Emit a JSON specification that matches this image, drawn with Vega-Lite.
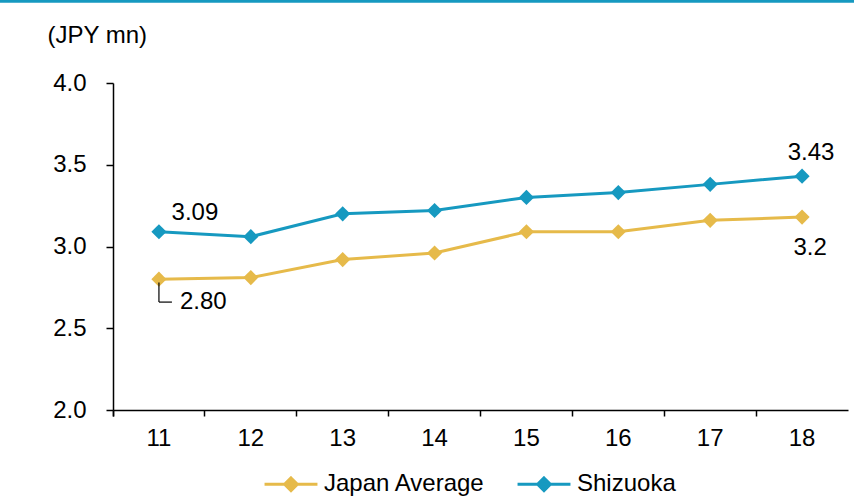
{
  "$schema": "https://vega.github.io/schema/vega-lite/v6.json",
  "width": 735,
  "height": 327,
  "autosize": "none",
  "padding": {"left": 113, "top": 83, "right": 6, "bottom": 91},
  "background": "white",
  "config": {
    "view": {"stroke": null},
    "font": "Liberation Sans",
    "axis": {"labelFont": "Liberation Sans", "labelFontSize": 24, "labelColor": "#000000", "domainColor": "#000000", "tickColor": "#000000", "domainWidth": 1.5, "tickWidth": 1.5, "grid": false},
    "legend": {"labelFont": "Liberation Sans", "labelFontSize": 24, "labelColor": "#000000", "labelLimit": 400}
  },
  "datasets": {
    "series": [
      {"year": "11", "region": "Japan Average", "value": 2.80},
      {"year": "12", "region": "Japan Average", "value": 2.81},
      {"year": "13", "region": "Japan Average", "value": 2.92},
      {"year": "14", "region": "Japan Average", "value": 2.96},
      {"year": "15", "region": "Japan Average", "value": 3.09},
      {"year": "16", "region": "Japan Average", "value": 3.09},
      {"year": "17", "region": "Japan Average", "value": 3.16},
      {"year": "18", "region": "Japan Average", "value": 3.18},
      {"year": "11", "region": "Shizuoka", "value": 3.09},
      {"year": "12", "region": "Shizuoka", "value": 3.06},
      {"year": "13", "region": "Shizuoka", "value": 3.20},
      {"year": "14", "region": "Shizuoka", "value": 3.22},
      {"year": "15", "region": "Shizuoka", "value": 3.30},
      {"year": "16", "region": "Shizuoka", "value": 3.33},
      {"year": "17", "region": "Shizuoka", "value": 3.38},
      {"year": "18", "region": "Shizuoka", "value": 3.43}
    ]
  },
  "layer": [
    {
      "data": {"name": "series"},
      "mark": {"type": "line", "strokeWidth": 3, "point": {"shape": "diamond", "size": 230, "filled": true, "opacity": 1}},
      "encoding": {
        "x": {"field": "year", "type": "ordinal", "sort": null,
              "scale": {"type": "band", "paddingInner": 0, "paddingOuter": 0},
              "axis": {"title": null, "labelAngle": 0, "bandPosition": 0, "tickExtra": true, "tickSize": 6, "labelPadding": 10}},
        "y": {"field": "value", "type": "quantitative",
              "scale": {"domain": [2.0, 4.0], "nice": false, "zero": false},
              "axis": {"values": [2.0, 2.5, 3.0, 3.5, 4.0], "format": ".1f", "tickSize": 7, "labelPadding": 20,
                       "title": "(JPY mn)", "titleAngle": 0, "titleAlign": "left", "titleBaseline": "middle",
                       "titleX": -66, "titleY": -48, "titleFont": "Liberation Sans", "titleFontSize": 24, "titleFontWeight": "normal", "titleColor": "#000000"}},
        "color": {"field": "region", "type": "nominal",
                  "scale": {"domain": ["Japan Average", "Shizuoka"], "range": ["#E6BA4A", "#1699C0"]},
                  "legend": {"title": null, "orient": "none", "legendX": 150, "legendY": 373, "direction": "horizontal", "padding": 0,
                             "symbolType": "M-1,0H1M0,-0.24L0.24,0L0,0.24L-0.24,0Z", "symbolSize": 2800, "symbolStrokeWidth": 3,
                             "labelOffset": 5, "columnPadding": 25, "labelLimit": 400,
                             "encode": {"symbols": {"update": {"fill": {"scale": "color", "field": "value"}, "stroke": {"scale": "color", "field": "value"}, "opacity": {"value": 1}}}}}}
      }
    },
    {
      "data": {"values": [{"year": "11", "value": 3.09, "label": "3.09"}]},
      "mark": {"type": "text", "fontSize": 24, "dx": 36, "dy": -19, "color": "#000000"},
      "encoding": {"x": {"field": "year", "type": "ordinal"}, "y": {"field": "value", "type": "quantitative"}, "text": {"field": "label"}}
    },
    {
      "data": {"values": [{"year": "18", "value": 3.43, "label": "3.43"}]},
      "mark": {"type": "text", "fontSize": 24, "dx": 9, "dy": -23, "color": "#000000"},
      "encoding": {"x": {"field": "year", "type": "ordinal"}, "y": {"field": "value", "type": "quantitative"}, "text": {"field": "label"}}
    },
    {
      "data": {"values": [{"year": "18", "value": 3.18, "label": "3.2"}]},
      "mark": {"type": "text", "fontSize": 24, "dx": 8, "dy": 31, "color": "#000000"},
      "encoding": {"x": {"field": "year", "type": "ordinal"}, "y": {"field": "value", "type": "quantitative"}, "text": {"field": "label"}}
    },
    {
      "data": {"values": [{"year": "11", "value": 2.66, "label": "2.80"}]},
      "mark": {"type": "text", "fontSize": 24, "align": "left", "baseline": "middle", "dx": 21, "dy": 0, "color": "#000000"},
      "encoding": {"x": {"field": "year", "type": "ordinal"}, "y": {"field": "value", "type": "quantitative"}, "text": {"field": "label"}}
    },
    {
      "data": {"values": [{"year": "11", "top": 2.78, "bottom": 2.66}]},
      "mark": {"type": "rule", "color": "#000000", "strokeWidth": 1.2},
      "encoding": {"x": {"field": "year", "type": "ordinal"}, "y": {"field": "top", "type": "quantitative"}, "y2": {"field": "bottom"}}
    },
    {
      "data": {"values": [{"year": "11", "value": 2.66}]},
      "mark": {"type": "rule", "color": "#000000", "strokeWidth": 1.2, "x2Offset": 13},
      "encoding": {"x": {"field": "year", "type": "ordinal"}, "x2": {"field": "year"}, "y": {"field": "value", "type": "quantitative"}}
    },
    {
      "data": {"values": [{"first": "11", "last": "18", "level": 4.5}]},
      "mark": {"type": "rule", "color": "#1699C0", "strokeWidth": 3, "xOffset": -160, "x2Offset": 52, "clip": false},
      "encoding": {"x": {"field": "first", "type": "ordinal"}, "x2": {"field": "last"}, "y": {"field": "level", "type": "quantitative"}}
    }
  ]
}
